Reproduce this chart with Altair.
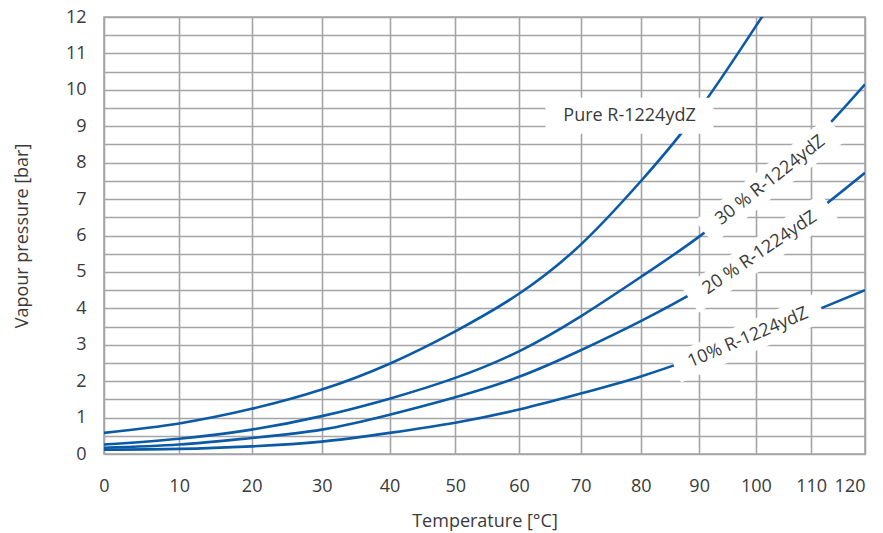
import altair as alt
import pandas as pd

# ---- data ----
temps = [0, 10, 20, 30, 40, 50, 60, 70, 80, 90, 100, 110, 120]
pure_t = [0, 10, 20, 30, 40, 50, 60, 70, 80, 90, 100, 101.2]
pure_p = [0.58, 0.84, 1.24, 1.77, 2.48, 3.37, 4.40, 5.75, 7.49, 9.45, 11.75, 12.0]
p30 = [0.26, 0.42, 0.67, 1.04, 1.52, 2.09, 2.82, 3.78, 4.86, 5.97, 7.22, 8.55, 10.15]
p20 = [0.17, 0.26, 0.44, 0.67, 1.08, 1.56, 2.12, 2.85, 3.65, 4.52, 5.50, 6.55, 7.72]
p10 = [0.12, 0.14, 0.21, 0.34, 0.58, 0.86, 1.22, 1.66, 2.13, 2.68, 3.27, 3.89, 4.50]

label_text = ["Pure R-1224ydZ", "30 % R-1224ydZ", "20 % R-1224ydZ", "10% R-1224ydZ"]
label_t = [78.1, 102.6, 100.7, 98.6]
label_p = [9.29, 7.51, 5.52, 3.19]
label_angle = [0, 322, 325.7, 337]

# ---- styles ----
box_w = [168, 168, 168, 158]
box_h = [36, 30, 30, 30]
BLUE = "#0b5aa6"
GRID = "#a5a5a8"
TEXT = "#3a3a3a"
FONT = "Open Sans"

rows = []
for t, p in zip(pure_t, pure_p):
    rows.append({"series": "pure", "t": t, "p": p})
for name, vals in (("30", p30), ("20", p20), ("10", p10)):
    for t, p in zip(temps, vals):
        rows.append({"series": name, "t": t, "p": p})
curves = pd.DataFrame(rows)

lab_rows = []
for txt, t, p, a, w, h in zip(label_text, label_t, label_p, label_angle, box_w, box_h):
    r = h / w
    path = f"M-1,-{r:.4f}L1,-{r:.4f}L1,{r:.4f}L-1,{r:.4f}Z"
    lab_rows.append({"text": txt, "t": t, "p": p, "angle": a, "shape": path, "size": w * w})
labels = pd.DataFrame(lab_rows)

xscale = alt.Scale(type="symlog", constant=273.15, domain=[0, 120], nice=False, zero=False)
yscale = alt.Scale(domain=[0, 12], nice=False, zero=True)

xaxis = alt.Axis(
    values=temps,
    tickCount=100,
    title="Temperature [°C]",
    grid=True,
    ticks=False,
    domain=False,
    labelOverlap=False,
    labelPadding=23,
    labelAlign={"condition": {"test": "datum.value == 120", "value": "right"}, "value": "center"},
    titleX=380.5,
    titleY=67,
    titleBaseline="middle",
)
yaxis = alt.Axis(
    values=[i * 0.5 for i in range(25)],
    tickCount=100,
    labelExpr="datum.value % 1 == 0 ? format(datum.value, 'd') : ''",
    labelOverlap=False,
    title="Vapour pressure [bar]",
    grid=True,
    ticks=False,
    domain=False,
    labelPadding=18,
    titleX=-82,
    titleY=218.5,
    titleBaseline="middle",
    titleAngle=270,
)

lines = alt.Chart(curves).mark_line(
    color=BLUE, strokeWidth=2.6, interpolate="natural", clip=True
).encode(
    x=alt.X("t:Q", scale=xscale, axis=xaxis),
    y=alt.Y("p:Q", scale=yscale, axis=yaxis),
    detail="series:N",
)

boxes = alt.Chart(labels).mark_point(filled=True, fill="white", opacity=1, strokeOpacity=0).encode(
    x=alt.X("t:Q", scale=xscale),
    y=alt.Y("p:Q", scale=yscale),
    shape=alt.Shape("shape:N", scale=None),
    size=alt.Size("size:Q", scale=None),
    angle=alt.Angle("angle:Q", scale=None),
)

texts = alt.Chart(labels).mark_text(
    font=FONT, fontSize=18, color=TEXT, align="center", baseline="middle"
).encode(
    x=alt.X("t:Q", scale=xscale),
    y=alt.Y("p:Q", scale=yscale),
    text="text:N",
    angle=alt.Angle("angle:Q", scale=None),
)

chart = (
    alt.layer(lines, boxes, texts)
    .properties(
        width=761,
        height=437,
        autosize=alt.AutoSizeParams(type="none"),
        padding={"left": 96, "top": 9, "right": 10, "bottom": 79},
    )
    .configure_view(stroke=GRID, strokeWidth=1.6)
    .configure_axis(
        gridColor=GRID,
        gridWidth=1.6,
        gridOpacity=1,
        labelFont=FONT,
        labelFontSize=18,
        labelColor=TEXT,
        titleFont=FONT,
        titleFontSize=18,
        titleFontWeight="normal",
        titleColor=TEXT,
    )
)

chart.save("out.html", embed_options={"renderer": "svg", "actions": False})
